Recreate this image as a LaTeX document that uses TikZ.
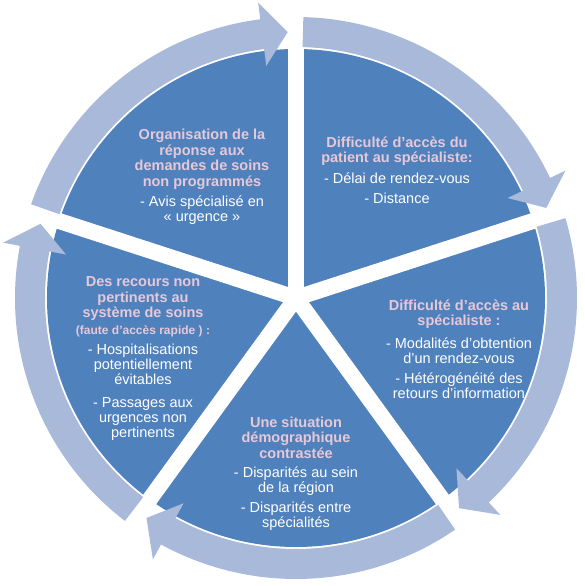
\documentclass[tikz,border=0pt]{standalone}
\usepackage{fontspec}
\setmainfont{Liberation Sans}
\definecolor{PieBlue}{HTML}{4F81BD}
\definecolor{RingBlue}{HTML}{A8B9DA}
\definecolor{TitlePink}{HTML}{E6C8D8}

\begin{document}
\begin{tikzpicture}[x=1pt,y=1pt,
  ttlbox/.style={align=center,inner sep=0pt,text=TitlePink,font=\bfseries\fontsize{14.5}{15.5}\selectfont},
  txtbox/.style={align=center,inner sep=0pt,text=white,font=\fontsize{14.5}{15}\selectfont}]

\useasboundingbox (-296,-288) rectangle (289,298);
\fill[white] (-296,-288) rectangle (289,298);

\fill[PieBlue] (0,0) circle (249);
\foreach \g in {90,18,-54,-126,162}
\draw[white,line width=16pt] (0,0) -- (\g:262);

\foreach \g in {162,90,18,-54,-126} {
\pgfmathsetmacro\ta{\g-1.5}
\pgfmathsetmacro\tb{\g-72+1.8}
\pgfmathsetmacro\hb{\tb+5.5}
\fill[RingBlue] (\ta:281) arc[start angle=\ta,end angle=\hb,radius=281]
  -- (\hb:298) -- (\tb:266) -- (\hb:234) -- (\hb:251)
  arc[start angle=\hb,end angle=\ta,radius=251] -- cycle;
}

\node[ttlbox] (orgttl) at (-94,138.5) {Organisation de la\\réponse aux\\demandes de soins\\non programmés};
\node[txtbox] (orgtxt) at (-94,88) {- Avis spécialisé en\\« urgence »};

\node[ttlbox] (delaittl) at (101,147) {Difficulté d’accès du\\patient au spécialiste:};
\node[txtbox] (delaitxt) at (101,110) {- Délai de rendez-vous\\[5pt]- Distance};

\node[ttlbox] (modalttl) at (163,-16) {Difficulté d’accès au\\spécialiste :};
\node[txtbox] (modaltxt) at (163,-70) {- Modalités d’obtention\\d’un rendez-vous\\[5pt]- Hétérogénéité des\\retours d’information};

\node[ttlbox] (demottl) at (0,-139.5) {Une situation\\démographique\\contrastée};
\node[txtbox] (demotxt) at (0,-201) {- Disparités au sein\\de la région\\[5pt]- Disparités entre\\spécialités};

\node[ttlbox] (recoursttl) at (-153,-1) {Des recours non\\pertinents au\\système de soins};
\node[ttlbox,font=\bfseries\fontsize{12}{13}\selectfont] (faute) at (-153,-33) {(faute d’accès rapide ) :};
\node[txtbox] (recourstxt) at (-153,-94) {- Hospitalisations\\potentiellement\\évitables\\[8pt]- Passages aux\\urgences non\\pertinents};

\end{tikzpicture}
\end{document}
